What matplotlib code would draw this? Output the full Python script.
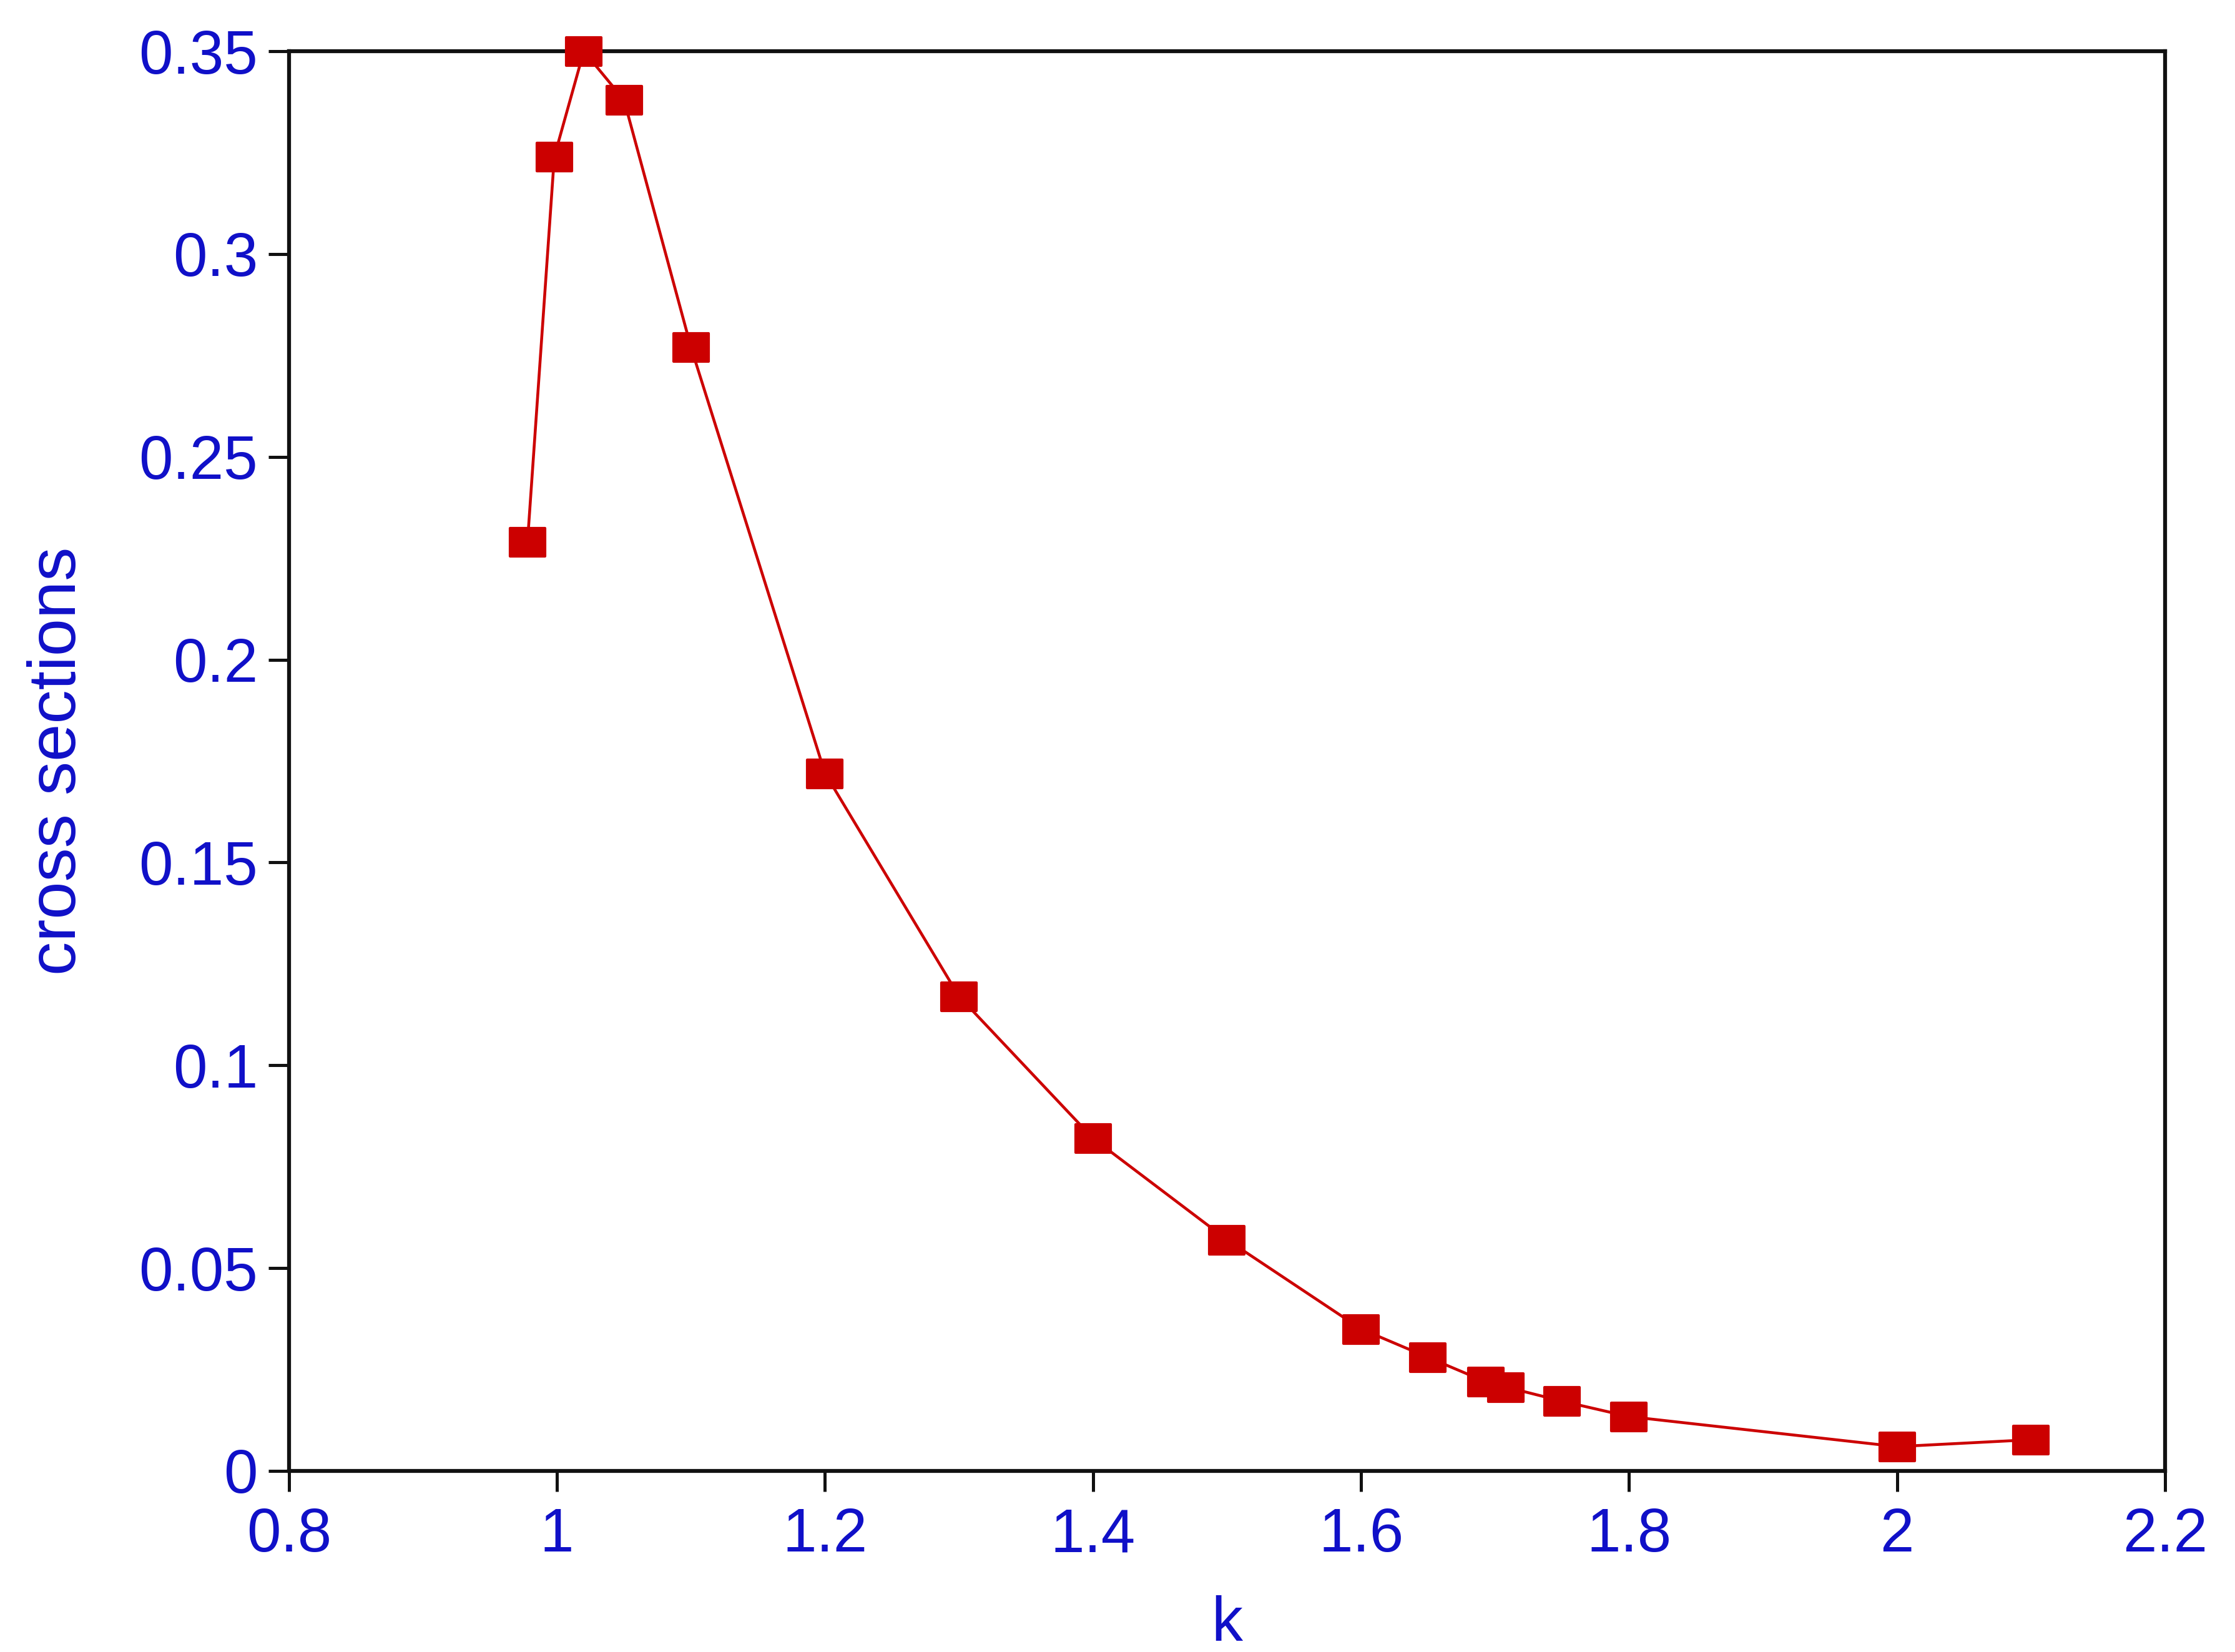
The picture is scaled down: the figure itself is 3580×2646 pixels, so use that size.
import matplotlib
matplotlib.use('Agg')
from matplotlib import pyplot as plt
from matplotlib.path import Path
from matplotlib.ticker import FormatStrFormatter, MultipleLocator

# values
k = [0.978, 0.998, 1.02, 1.05, 1.1, 1.2, 1.3, 1.4, 1.5, 1.6,
     1.65, 1.693, 1.708, 1.75, 1.8, 2.0, 2.1]
cross = [0.229, 0.324, 0.350, 0.338, 0.277, 0.172, 0.117, 0.082, 0.057, 0.035,
         0.028, 0.022, 0.0207, 0.0172, 0.0134, 0.006, 0.0077]

RED = '#cc0000'
BLUE = '#1010c8'

plt.rcParams['font.family'] = ['Liberation Sans', 'DejaVu Sans']

# markers in the reference are a bit wider than tall
rect = Path([(-1, -0.8), (1, -0.8), (1, 0.8), (-1, 0.8), (-1, -0.8)],
            [Path.MOVETO, Path.LINETO, Path.LINETO, Path.LINETO, Path.CLOSEPOLY])

fig = plt.figure(figsize=(3580 / 300, 2646 / 300), dpi=300)
ax = fig.add_axes([0.1293, 0.1096, 0.8394, 0.8594])

ax.plot(k, cross, color=RED, lw=1.1, marker=rect, markersize=13.5,
        markerfacecolor=RED, markeredgecolor=RED, clip_on=False, zorder=3)

ax.set_xlim(0.8, 2.2)
ax.set_ylim(0, 0.35)
ax.xaxis.set_major_locator(MultipleLocator(0.2))
ax.yaxis.set_major_locator(MultipleLocator(0.05))
ax.xaxis.set_major_formatter(FormatStrFormatter('%g'))
ax.yaxis.set_major_formatter(FormatStrFormatter('%g'))

for s in ax.spines.values():
    s.set_linewidth(1.5)
    s.set_color('#111111')
ax.tick_params(direction='out', length=8, width=1.2, colors='#111111',
               labelcolor=BLUE, labelsize=23.5, top=False, right=False)
ax.tick_params(axis='x', pad=6)
ax.tick_params(axis='y', pad=4)

ax.set_xlabel('k', color=BLUE, fontsize=24, labelpad=12)
ax.set_ylabel('cross sections', color=BLUE, fontsize=26, labelpad=19)

fig.savefig('out.png', dpi=300, facecolor='white')
